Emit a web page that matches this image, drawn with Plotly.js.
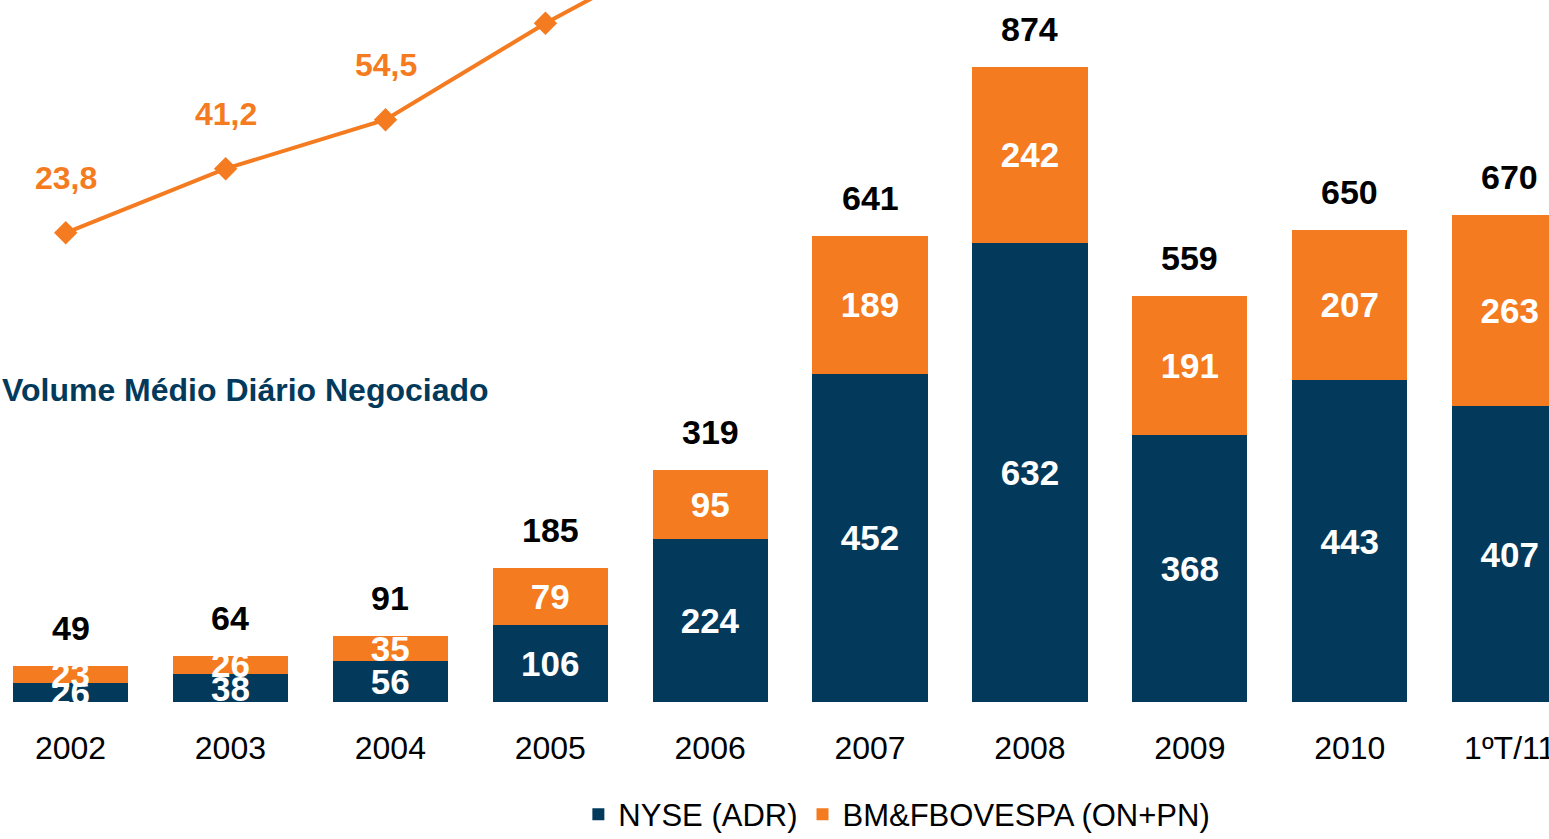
<!DOCTYPE html>
<html>
<head>
<meta charset="utf-8">
<script src="https://cdn.plot.ly/plotly-3.0.1.min.js"></script>
<style>html,body{margin:0;padding:0;background:#fff;}#chart{width:1549px;height:839px;}</style>
</head>
<body>
<div id="chart"></div>
<script>
const categories = ["2002","2003","2004","2005","2006","2007","2008","2009","2010","1ºT/11"];
const nyseADR = [26, 38, 56, 106, 224, 452, 632, 368, 443, 407];
const bmfBovespa = [23, 26, 35, 79, 95, 189, 242, 191, 207, 263];
const totals = [49, 64, 91, 185, 319, 641, 874, 559, 650, 670];
const lineCategories = ["2002","2003","2004","2005","2006"];
const lineValues = [23.8, 41.2, 54.5, 80.7, 104];
const lineLabels = ["23,8","41,2","54,5","80,7","104,0"];
const seriesNames = ["NYSE (ADR)", "BM&FBOVESPA (ON+PN)"];
const chartTitle = "Volume Médio Diário Negociado";

const NAVY = "#033a5c";
const ORANGE = "#f47b20";
const FONT = "Liberation Sans, Arial, sans-serif";

const traces = [
  {
    type: "bar", name: seriesNames[0], x: categories, y: nyseADR,
    marker: {color: NAVY}, text: nyseADR.map(String),
    textposition: "inside", insidetextanchor: "middle", constraintext: "none", textangle: 0,
    textfont: {family: FONT, size: 35, color: "#ffffff", weight: "bold"},
    hoverinfo: "skip"
  },
  {
    type: "bar", name: seriesNames[1], x: categories, y: bmfBovespa,
    marker: {color: ORANGE}, text: bmfBovespa.map(String),
    textposition: "inside", insidetextanchor: "middle", constraintext: "none", textangle: 0,
    textfont: {family: FONT, size: 35, color: "#ffffff", weight: "bold"},
    hoverinfo: "skip"
  },
  {
    type: "scatter", mode: "lines+markers", x: lineCategories, y: lineValues,
    xaxis: "x2", yaxis: "y2", showlegend: false, cliponaxis: true,
    line: {color: ORANGE, width: 4},
    marker: {symbol: "diamond", size: 18, color: ORANGE},
    hoverinfo: "skip"
  }
];

const annotations = [];
categories.forEach((c, i) => {
  annotations.push({
    x: i, y: totals[i], xref: "x", yref: "y", text: String(totals[i]),
    showarrow: false, yanchor: "middle", yshift: 38,
    font: {family: FONT, size: 34, color: "#000000", weight: "bold"}
  });
});
lineCategories.forEach((c, i) => {
  annotations.push({
    x: i, y: lineValues[i], xref: "x2", yref: "y2", text: lineLabels[i],
    showarrow: false, yanchor: "middle", yshift: 55,
    font: {family: FONT, size: 32, color: ORANGE, weight: "bold"}
  });
});
annotations.push({
  x: 0, y: 0.444, xref: "paper", yref: "paper", xanchor: "left", yanchor: "middle",
  text: "<b>" + chartTitle + "</b>", showarrow: false,
  font: {family: FONT, size: 32, color: NAVY}
});

const layout = {
  width: 1549, height: 839,
  margin: {l: 0, r: 0, t: 0, b: 137, autoexpand: false},
  paper_bgcolor: "#ffffff", plot_bgcolor: "#ffffff",
  barmode: "stack", bargap: 0.28,
  hovermode: false,
  font: {family: FONT},
  xaxis: {
    type: "category", range: [-0.441, 9.246], fixedrange: true,
    showgrid: false, zeroline: false, showline: false, ticks: "",
    tickfont: {family: FONT, size: 32, color: "#000000"},
    ticklabelstandoff: 24
  },
  xaxis2: {
    type: "category", overlaying: "x", range: [-0.411, 9.276], visible: false,
    categoryarray: categories, categoryorder: "array", fixedrange: true
  },
  yaxis: {range: [0, 966.3], visible: false, showgrid: false, zeroline: false, fixedrange: true},
  yaxis2: {range: [-103.6, 87.0], overlaying: "y", visible: false, showgrid: false, zeroline: false, fixedrange: true},
  showlegend: true,
  legend: {
    orientation: "h", x: 0.579, xanchor: "center", yref: "container", y: 0.029, yanchor: "middle",
    font: {family: FONT, size: 31, color: "#000000"},
    traceorder: "normal",
    bgcolor: "rgba(0,0,0,0)"
  },
  annotations: annotations
};

Plotly.newPlot("chart", traces, layout, {displayModeBar: false, staticPlot: true});
</script>
</body>
</html>
